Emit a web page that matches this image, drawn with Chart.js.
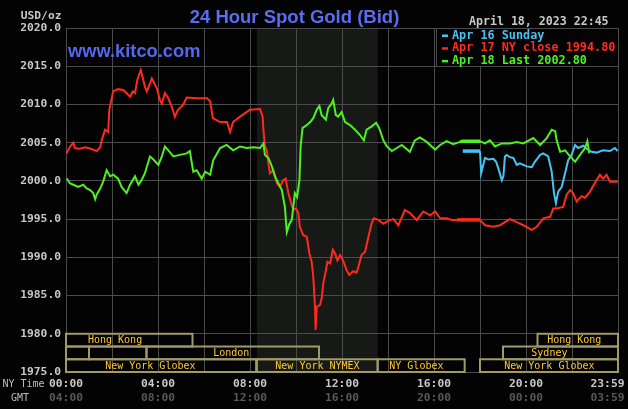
<!DOCTYPE html>
<html>
<head>
<meta charset="utf-8">
<script src="https://cdn.jsdelivr.net/npm/chart.js@4/dist/chart.umd.min.js"></script>
<style>
  html, body { margin: 0; padding: 0; background: #030304; }
  canvas { display: block; }
</style>
</head>
<body>
<canvas id="gold" width="628" height="409"></canvas>
<script>
// minutes after 00:00 NY time, price in USD/oz
const sundayMinutes = [1035, 1080, 1083, 1093, 1102, 1115, 1122, 1128, 1137, 1141, 1145, 1150, 1158, 1167, 1176, 1184, 1202, 1215, 1223, 1237, 1245, 1258, 1267, 1273, 1278, 1284, 1293, 1302, 1310, 1319, 1328, 1336, 1350, 1358, 1371, 1384, 1401, 1419, 1432, 1439]
const sundayPrices = [2003.9, 2003.9, 2001.0, 2003.0, 2002.8, 2002.9, 2002.5, 2001.6, 2000.1, 2000.6, 2003.2, 2003.4, 2003.1, 2003.0, 2002.1, 2002.3, 2001.9, 2001.8, 2002.5, 2003.4, 2003.6, 2003.2, 2001.2, 1998.4, 1997.1, 1998.6, 1999.2, 2001.0, 2002.7, 2003.4, 2004.7, 2004.3, 2004.6, 2004.2, 2003.8, 2003.7, 2004.0, 2003.9, 2004.3, 2003.9]

const mondayMinutes = [2, 5, 12, 19, 23, 35, 50, 65, 80, 89, 93, 102, 110, 113, 119, 123, 136, 149, 158, 167, 174, 180, 186, 195, 206, 211, 224, 237, 245, 250, 258, 266, 276, 284, 292, 305, 315, 342, 368, 376, 383, 402, 420, 428, 436, 454, 480, 506, 513, 515, 519, 524, 528, 532, 541, 550, 558, 567, 573, 580, 589, 593, 600, 606, 610, 619, 628, 635, 641, 645, 650, 651, 654, 663, 667, 671, 678, 682, 689, 696, 702, 708, 715, 723, 732, 739, 749, 758, 763, 771, 780, 789, 797, 803, 815, 828, 841, 854, 867, 884, 897, 915, 932, 950, 963, 976, 993, 1006, 1020, 1080, 1093, 1115, 1132, 1158, 1176, 1193, 1215, 1228, 1245, 1263, 1271, 1280, 1297, 1306, 1315, 1323, 1332, 1345, 1354, 1367, 1384, 1393, 1401, 1410, 1419, 1437, 1439]
const mondayPrices = [2003.6, 2004.0, 2004.6, 2005.0, 2004.3, 2004.2, 2004.4, 2004.2, 2003.9, 2004.4, 2005.3, 2006.7, 2006.4, 2009.3, 2010.8, 2011.7, 2012.0, 2011.9, 2011.5, 2011.0, 2011.7, 2011.5, 2013.2, 2014.5, 2012.3, 2011.7, 2013.4, 2012.1, 2010.6, 2010.1, 2011.5, 2010.9, 2009.7, 2008.4, 2009.3, 2009.9, 2010.9, 2010.8, 2010.8, 2010.4, 2008.2, 2007.7, 2007.7, 2006.4, 2007.7, 2008.4, 2009.3, 2009.4, 2008.4, 2006.7, 2004.5, 2004.0, 2002.3, 2001.0, 2001.4, 1999.7, 1999.2, 2000.1, 2000.3, 1998.4, 1996.8, 1996.2, 1996.4, 1995.8, 1994.0, 1992.9, 1992.7, 1990.5, 1989.4, 1987.5, 1983.1, 1980.5, 1983.5, 1983.8, 1984.6, 1986.6, 1988.3, 1989.4, 1989.2, 1991.0, 1990.5, 1989.6, 1990.3, 1989.6, 1988.3, 1987.7, 1988.2, 1988.0, 1988.8, 1990.3, 1990.7, 1992.7, 1994.4, 1995.1, 1994.9, 1994.4, 1994.8, 1995.0, 1994.2, 1996.2, 1995.8, 1994.9, 1996.0, 1995.5, 1996.0, 1995.1, 1995.1, 1994.9, 1994.9, 1994.9, 1994.2, 1994.0, 1994.2, 1995.0, 1994.6, 1994.2, 1993.6, 1994.0, 1995.1, 1995.3, 1996.4, 1996.4, 1996.6, 1998.2, 1998.8, 1998.4, 1997.3, 1998.0, 1997.8, 1998.6, 2000.1, 2000.8, 2000.3, 2000.8, 1999.9, 1999.9, 2000.0]

const tuesdayMinutes = [2, 10, 19, 32, 45, 54, 63, 71, 76, 80, 89, 97, 106, 115, 123, 136, 145, 158, 167, 180, 189, 197, 206, 219, 228, 241, 250, 258, 267, 280, 297, 315, 323, 332, 341, 354, 363, 376, 384, 402, 419, 436, 454, 471, 489, 506, 515, 519, 528, 537, 545, 554, 563, 571, 576, 583, 589, 593, 597, 603, 609, 612, 617, 628, 637, 645, 654, 661, 667, 678, 684, 693, 697, 704, 710, 719, 728, 741, 754, 767, 777, 784, 797, 809, 817, 828, 837, 850, 863, 876, 897, 910, 923, 941, 963, 976, 993, 1010, 1028, 1035, 1080, 1093, 1106, 1119, 1137, 1158, 1176, 1193, 1219, 1237, 1254, 1267, 1276, 1280, 1289, 1302, 1315, 1328, 1341, 1354, 1360, 1365]
const tuesdayPrices = [2000.3, 1999.7, 1999.5, 1999.2, 1999.5, 1999.0, 1998.8, 1998.4, 1997.6, 1998.2, 1999.0, 1999.9, 2001.4, 2000.6, 2000.8, 2000.3, 1999.2, 1998.4, 1999.5, 2000.6, 1999.5, 2000.1, 2001.0, 2003.2, 2002.8, 2002.1, 2003.2, 2004.5, 2004.0, 2003.2, 2003.4, 2003.6, 2003.9, 2001.2, 2001.4, 2000.3, 2001.2, 2000.8, 2002.7, 2004.3, 2004.7, 2004.0, 2004.5, 2004.3, 2004.4, 2004.3, 2004.9, 2003.4, 2003.0, 2001.9, 2000.6, 1999.7, 1998.8, 1996.6, 1993.3, 1994.4, 1994.9, 1996.6, 1998.4, 1997.9, 2000.1, 2004.5, 2006.9, 2007.3, 2007.7, 2008.2, 2009.3, 2009.8, 2008.6, 2008.0, 2009.5, 2010.1, 2010.6, 2008.6, 2008.4, 2009.0, 2007.7, 2007.3, 2006.7, 2006.0, 2005.3, 2006.7, 2007.1, 2007.6, 2006.9, 2005.3, 2004.5, 2003.9, 2004.3, 2004.7, 2003.8, 2005.3, 2005.7, 2005.1, 2004.1, 2004.7, 2005.2, 2004.8, 2005.1, 2005.2, 2005.2, 2004.9, 2005.3, 2004.5, 2004.9, 2004.9, 2005.1, 2004.9, 2005.6, 2004.7, 2005.6, 2006.7, 2006.5, 2005.3, 2003.8, 2004.0, 2003.2, 2002.5, 2003.4, 2004.3, 2005.2, 2003.6]

const seriesLabels = ['Apr 16 Sunday', 'Apr 17 NY close 1994.80', 'Apr 18 Last 2002.80']
const closedWindow = [1020, 1080]
const nymexWindow = [498, 813]

const tickMinutes = [0, 240, 480, 720, 960, 1200, 1439]
const nyTimeLabels = ['00:00', '04:00', '08:00', '12:00', '16:00', '20:00', '23:59']
const gmtLabels = ['04:00', '08:00', '12:00', '16:00', '20:00', '00:00', '03:59']

const sessionNames = ['Hong Kong', 'Hong Kong', '', '', 'London', 'Sydney', 'New York Globex', 'New York NYMEX', 'NY Globex', 'New York Globex']
const sessionRows = [0, 0, 1, 1, 1, 1, 2, 2, 2, 2]
const sessionStarts = [0, 1230, 0, 60, 210, 1140, 0, 498, 813, 1080]
const sessionEnds = [330, 1440, 60, 210, 660, 1440, 496, 813, 1040, 1440]
const sessionLabelAt = [128, 1326, 0, 0, 431, 1261, 220, 656, 914, 1261]

const MONO = '"DejaVu Sans Mono", "Liberation Mono", monospace'
const SANS = '"Liberation Sans", Arial, sans-serif'
const GRID = '#4b4b4b'

const points = (xs, ys) => xs.map((x, i) => ({ x, y: ys[i] }))

function series(label, xs, ys, color, order) {
  return {
    label,
    data: points(xs, ys),
    borderColor: color,
    borderWidth: 2,
    pointRadius: 0,
    tension: 0,
    order,
    segment: {
      borderWidth: (ctx) =>
        ctx.p0.parsed.x >= closedWindow[0] && ctx.p1.parsed.x <= closedWindow[1] ? 3.5 : 2,
    },
  }
}

const decor = {
  id: 'decor',
  beforeDraw(chart) {
    const { ctx, chartArea: a, scales: { x } } = chart
    const x0 = x.getPixelForValue(nymexWindow[0])
    const x1 = x.getPixelForValue(nymexWindow[1])
    ctx.save()
    ctx.fillStyle = '#161916'
    ctx.fillRect(x0, a.top, x1 - x0, a.bottom - a.top)
    ctx.restore()
  },
  afterDatasetsDraw(chart) {
    const { ctx, scales: { x, y } } = chart
    const top = y.getPixelForValue(1980)
    const rowH = (y.getPixelForValue(1975) - top) / 3
    ctx.save()
    ctx.lineWidth = 2
    ctx.strokeStyle = '#a09a68'
    ctx.fillStyle = '#ffc933'
    ctx.font = '10px ' + MONO
    ctx.textAlign = 'center'
    ctx.textBaseline = 'middle'
    sessionNames.forEach((name, i) => {
      const x0 = x.getPixelForValue(sessionStarts[i])
      const x1 = x.getPixelForValue(sessionEnds[i])
      const y0 = top + sessionRows[i] * rowH
      ctx.strokeRect(x0, y0, x1 - x0, rowH)
      if (name) ctx.fillText(name, x.getPixelForValue(sessionLabelAt[i]), y0 + rowH / 2 + 0.5)
    })
    ctx.restore()
  },
  afterDraw(chart) {
    const { ctx, scales: { x }, chartArea: a } = chart
    ctx.save()

    // legend box
    ctx.fillStyle = '#030304'
    ctx.fillRect(436, a.top, 183, 39)
    ctx.strokeStyle = GRID
    ctx.lineWidth = 1
    ctx.strokeRect(436.5, a.top + 0.5, 182, 38)
    ctx.font = 'bold 11.8px ' + MONO
    ctx.textBaseline = 'middle'
    ctx.textAlign = 'left'
    const order = [0, 1, 2]
    order.forEach((i, row) => {
      const ds = chart.data.datasets[i]
      const ly = 35.5 + row * 12.7
      ctx.fillStyle = ds.borderColor
      ctx.fillRect(442, ly - 1, 6, 2.5)
      ctx.fillText(ds.label, 452, ly)
    })

    // title and labels
    ctx.textBaseline = 'alphabetic'
    ctx.fillStyle = '#5a6cf2'
    ctx.font = 'bold 18.5px ' + SANS
    ctx.textAlign = 'center'
    ctx.fillText('24 Hour Spot Gold (Bid)', 294.5, 22.5)
    ctx.textAlign = 'left'
    ctx.fillStyle = '#5468ee'
    ctx.font = 'bold 18.3px ' + SANS
    ctx.fillText('www.kitco.com', 68, 56.5)

    ctx.fillStyle = '#c8c8c8'
    ctx.font = 'bold 11.3px ' + MONO
    ctx.textAlign = 'right'
    ctx.fillText('USD/oz', 61.5, 18.5)
    ctx.textAlign = 'left'
    ctx.font = 'bold 11.6px ' + MONO
    ctx.fillText('April 18, 2023 22:45', 469, 25)

    // time axis labels, NY time and GMT
    ctx.textBaseline = 'middle'
    ctx.font = '10px ' + MONO
    ctx.fillStyle = '#bdbdbd'
    ctx.fillText('NY Time', 2.5, 384)
    ctx.fillText('GMT', 11, 398)
    ctx.font = 'bold 11.3px ' + MONO
    tickMinutes.forEach((m, i) => {
      let cx = x.getPixelForValue(m)
      const w = ctx.measureText(nyTimeLabels[i]).width
      cx = Math.min(cx, 624.5 - w / 2)
      ctx.textAlign = 'center'
      ctx.fillStyle = '#c8c8c8'
      ctx.fillText(nyTimeLabels[i], cx, 384)
      ctx.fillStyle = '#585858'
      ctx.fillText(gmtLabels[i], cx, 398)
    })
    ctx.restore()
  },
}

new Chart(document.getElementById('gold'), {
  type: 'line',
  data: {
    datasets: [
      series(seriesLabels[0], sundayMinutes, sundayPrices, '#45c4f4', 1),
      series(seriesLabels[1], mondayMinutes, mondayPrices, '#ff2a1e', 2),
      series(seriesLabels[2], tuesdayMinutes, tuesdayPrices, '#4ef022', 0),
    ],
  },
  options: {
    responsive: false,
    animation: false,
    devicePixelRatio: 1,
    layout: { padding: { top: 28, right: 10, bottom: 0, left: 0 } },
    plugins: { legend: { display: false }, tooltip: { enabled: false } },
    scales: {
      x: {
        type: 'linear',
        min: 0,
        max: 1440,
        afterBuildTicks: (scale) => {
          scale.ticks = Array.from({ length: 13 }, (_, i) => ({ value: i * 120 }))
        },
        afterFit: (scale) => { scale.height = 37 },
        ticks: { display: false },
        grid: { color: GRID, drawTicks: false },
        border: { color: GRID },
      },
      y: {
        min: 1975,
        max: 2020,
        afterFit: (scale) => { scale.width = 66 },
        ticks: {
          stepSize: 5,
          padding: 5,
          color: '#c8c8c8',
          font: { family: MONO, size: 11.3, weight: 'bold' },
          callback: (v) => v.toFixed(1),
        },
        grid: { color: GRID, drawTicks: false },
        border: { color: GRID },
      },
    },
  },
  plugins: [decor],
})
</script>
</body>
</html>
